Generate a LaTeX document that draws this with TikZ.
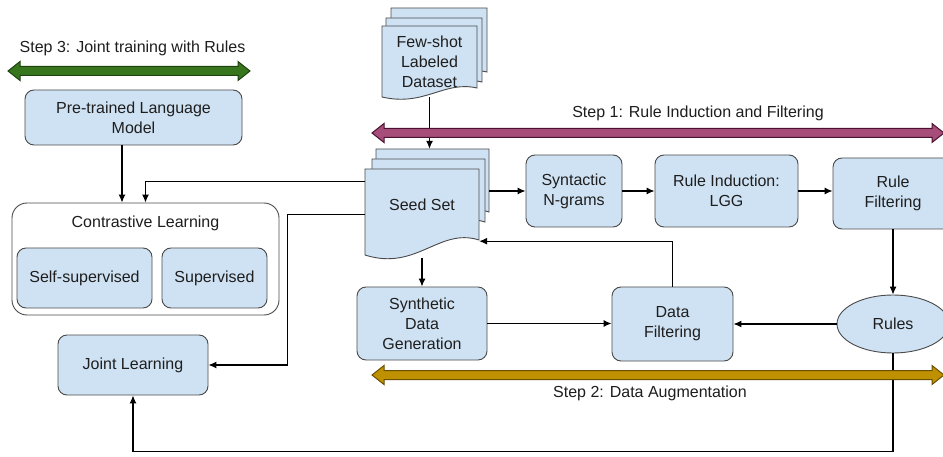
\documentclass[tikz,border=0pt]{standalone}
\usepackage{fontspec}
\setmainfont{Liberation Sans}
\usetikzlibrary{arrows.meta,shapes.geometric,calc}

\definecolor{boxfill}{HTML}{CFE2F3}
\definecolor{boxline}{HTML}{4A4A4A}
\definecolor{txt}{HTML}{1E1E1E}
\definecolor{stepone}{HTML}{A64D79}
\definecolor{steponeline}{HTML}{4C1130}
\definecolor{steptwo}{HTML}{BF9000}
\definecolor{steptwoline}{HTML}{6B5000}
\definecolor{stepthree}{HTML}{38761D}
\definecolor{stepthreeline}{HTML}{1E4210}

\tikzset{
  lbl/.style={font=\fontsize{16}{20}\selectfont, text=txt, align=center, inner sep=0pt},
  blk/.style={lbl, draw=boxline, line width=0.9pt, fill=boxfill, rounded corners=9pt},
  outerblk/.style={lbl, draw=boxline, line width=0.9pt, fill=white, rounded corners=15pt},
  docline/.style={draw=boxline, line width=0.9pt, fill=boxfill},
  link/.style={draw=black, line width=1.1pt, -{Latex[length=8pt,width=7pt]}},
}

% document sheet: left, top, right, bottom at left end, bottom at right end
\newcommand\docpage[5]{%
  \pgfmathsetmacro\dpw{#3-#1}%
  \pgfmathsetmacro\dpd{#4-#5}%
  \path[docline] (#1,#2) -- (#3,#2) -- (#3,#5)
    .. controls ({#3-0.35*\dpw},{#5-0.85*\dpd}) and ({#1+0.45*\dpw},{#4+1.1*\dpd}) .. (#1,#4) -- cycle;}

% broad double-headed band: x1, x2, y, fill, outline
\newcommand\bandarrow[5]{%
  \path[fill=#4, draw=#5, line width=1pt, line join=miter]
    (#1,#3) -- ({#1+12},{#3-9.5}) -- ({#1+12},{#3-4.5}) -- ({#2-12},{#3-4.5})
    -- ({#2-12},{#3-9.5}) -- (#2,#3) -- ({#2-12},{#3+9.5}) -- ({#2-12},{#3+4.5})
    -- ({#1+12},{#3+4.5}) -- ({#1+12},{#3+9.5}) -- cycle;}

\begin{document}
\begin{tikzpicture}[x=1pt,y=-1pt]
\clip (0,0) rectangle (943,457);
\fill[white] (0,0) rectangle (943,457);

% stacked sheets
\docpage{391}{8}{487}{81}{72}
\docpage{386}{18}{482}{91}{82}
\docpage{382}{26}{477}{97}{88}
\docpage{376}{149}{489}{227}{212}
\docpage{372}{159}{485}{237}{222}
\docpage{365}{169}{479}{255}{240}

% sheet labels and anchors
\node[lbl, minimum width=95pt, minimum height=71pt] (fewshot) at (429.5,61.5) {Few-shot\\Labeled\\Dataset};
\node[minimum width=113pt, minimum height=20pt, inner sep=0pt] (seedback) at (432.5,159) {};
\node[lbl, minimum width=114pt, minimum height=72pt] (seed) at (422,205) {Seed Set};

% blocks
\node[blk, minimum width=217pt, minimum height=55pt] (pre) at (133.5,117.5) {Pre-trained Language\\Model};
\node[outerblk, minimum width=267pt, minimum height=112pt] (cl) at (145.5,259) {};
\node[lbl] (cltitle) at (145.5,223) {Contrastive Learning};
\node[blk, minimum width=135pt, minimum height=60pt] (self) at (84.5,278) {Self-supervised};
\node[blk, minimum width=105pt, minimum height=60pt] (sup) at (214.5,278) {Supervised};
\node[blk, minimum width=150pt, minimum height=60pt] (joint) at (133,365) {Joint Learning};

\node[blk, minimum width=96pt, minimum height=72pt] (syn) at (574,191) {Syntactic\\N-grams};
\node[blk, minimum width=143pt, minimum height=72pt] (ri) at (726.5,191) {Rule Induction:\\LGG};
\node[blk, minimum width=120pt, minimum height=71pt] (rf) at (893,193.5) {Rule\\Filtering};
\node[lbl, ellipse, draw=boxline, line width=0.9pt, fill=boxfill, minimum width=112pt, minimum height=58pt] (rules) at (893,324) {Rules};
\node[blk, minimum width=121pt, minimum height=74pt] (df) at (672.5,324) {Data\\Filtering};
\node[blk, minimum width=130pt, minimum height=73pt] (synth) at (422,323.5) {Synthetic\\Data\\Generation};

% connectors
\draw[link] (fewshot.south) -- (fewshot.south |- seedback.north);
\draw[link] (syn.west -| seedback.east) -- (syn.west);
\draw[link] (syn.east) -- (ri.west);
\draw[link] (ri.east) -- (ri.east -| rf.west);
\draw[link] (rf.south) -- (rules.north);
\draw[link] (rules.west) -- (rules.west -| df.east);
\draw[link] (df.north) |- (seed.south east);
\draw[link] ([yshift=-17pt]seed.south) -- (seed.south |- synth.north);
\draw[link] (synth.east) -- (synth.east -| df.west);
\draw[link] ([yshift=-13pt]seed.north west) -| (cl.north);
\draw[link] ([xshift=-11.5pt]pre.south) -- ([xshift=-11.5pt]pre.south |- cl.north);
\draw[link] ([yshift=-46pt]seed.north west) -- ++(-77,0) |- (joint.east);
\draw[link] (rules.south) -- ++(0,98) -| (joint.south);

% stage bands and their captions
\bandarrow{8}{250}{71}{stepthree}{stepthreeline}
\bandarrow{372}{944}{133}{stepone}{steponeline}
\bandarrow{372}{944}{375}{steptwo}{steptwoline}
\node[lbl] (s3) at (132.5,48) {Step 3: Joint training with Rules};
\node[lbl] (s1) at (698,113) {Step 1: Rule Induction and Filtering};
\node[lbl] (s2) at (650,393) {Step 2: Data Augmentation};
\end{tikzpicture}
\end{document}
